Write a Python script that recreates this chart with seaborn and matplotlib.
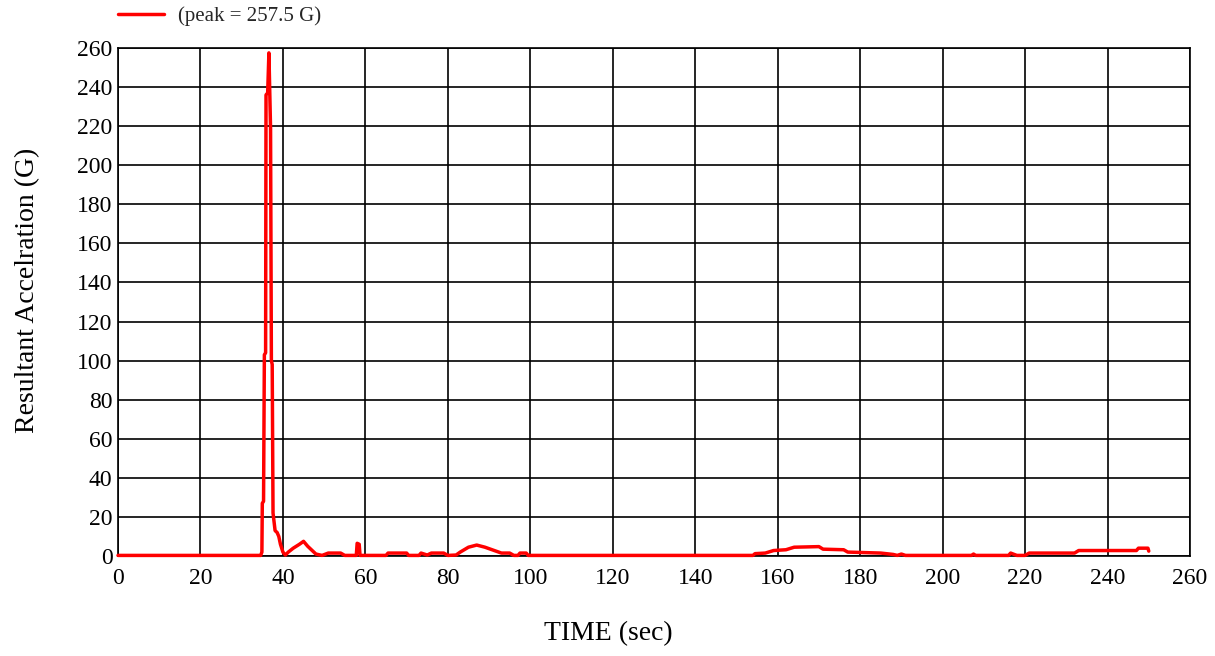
import matplotlib
matplotlib.use("Agg")
import matplotlib.pyplot as plt
import seaborn as sns
import pandas as pd

# Resultant acceleration record (time in seconds, acceleration in G)
time_sec = [
    0.0, 34.6, 34.9, 35.0, 35.3, 35.5, 35.8, 35.9, 36.3, 36.6,
    37.0, 37.2, 37.4, 37.6, 38.1, 38.6, 39.0, 39.4, 40.0, 40.6,
    41.3, 42.5, 44.0, 45.0, 46.0, 47.0, 48.0, 49.5, 51.0, 54.0,
    55.0, 57.8, 58.0, 58.5, 58.7, 65.0, 65.5, 70.0, 70.5, 73.0,
    73.5, 75.0, 76.0, 79.0, 80.0, 82.0, 83.0, 85.0, 87.0, 89.0,
    91.0, 93.0, 95.0, 96.0, 97.0, 97.5, 99.0, 99.5, 154.0, 154.5,
    157.0, 159.0, 162.0, 164.0, 170.0, 171.0, 176.0, 177.0, 185.0, 188.0,
    189.0, 190.0, 191.0, 207.0, 207.5, 208.0, 216.0, 216.5, 218.0, 220.0,
    221.0, 232.0, 233.0, 247.0, 247.5, 249.8, 250.0,
]
accel_g = [
    0.3, 0.3, 2.0, 27.0, 28.0, 103.0, 104.0, 236.0, 237.0, 257.5,
    219.0, 100.0, 98.0, 22.0, 13.0, 12.0, 10.0, 6.0, 2.0, 0.5,
    2.0, 4.0, 6.0, 7.5, 5.0, 3.0, 1.0, 0.3, 1.5, 1.5,
    0.3, 0.3, 6.5, 6.0, 0.3, 0.3, 1.5, 1.5, 0.3, 0.3,
    1.5, 0.5, 1.5, 1.5, 0.3, 0.5, 2.0, 4.5, 5.6, 4.5,
    3.0, 1.5, 1.5, 0.3, 0.3, 1.5, 1.5, 0.3, 0.3, 1.2,
    1.5, 2.8, 3.2, 4.5, 4.8, 3.5, 3.2, 2.0, 1.5, 0.8,
    0.3, 1.0, 0.3, 0.3, 1.0, 0.3, 0.3, 1.5, 0.3, 0.3,
    1.5, 1.5, 2.8, 2.8, 4.0, 4.0, 2.5,
]
tick_values = list(range(0, 261, 20))

df = pd.DataFrame({"time": time_sec, "accel": accel_g})
peak = max(accel_g)

sns.set_theme(style="white")
plt.rcParams["font.family"] = ["Liberation Serif", "DejaVu Serif"]

W, H = 1215, 656
fig = plt.figure(figsize=(W / 100, H / 100), dpi=100)
ax = fig.add_axes([118 / W, 1 - 556 / H, (1190 - 118) / W, (556 - 48) / H])

sns.lineplot(data=df, x="time", y="accel", ax=ax, color="#ff0000",
             linewidth=2.5, sort=False, estimator=None,
             label=f"(peak = {peak:.1f} G)", clip_on=False, zorder=5)

ax.set_xlim(0, 260)
ax.set_ylim(0, 260)
ax.set_xticks(tick_values)
ax.set_yticks(tick_values)
ax.grid(True, color="black", linewidth=1.2)
ax.set_axisbelow(True)
for s in ax.spines.values():
    s.set_color("black")
    s.set_linewidth(1.2)
ax.tick_params(axis="both", direction="in", length=5, width=1.2,
               colors="black", labelsize=17)
ax.tick_params(axis="x", pad=9)
ax.tick_params(axis="y", pad=4)

ax.set_xlabel("TIME (sec)", fontsize=20, color="black")
ax.xaxis.set_label_coords((608 - 118) / (1190 - 118), -(621 - 556) / (556 - 48))
ax.set_ylabel("Resultant Accelration (G)", fontsize=20, color="black")
ax.yaxis.set_label_coords(-(118 - 40) / (1190 - 118), (556 - 290) / (556 - 48))

ax.get_legend().remove()
handles, labels = ax.get_legend_handles_labels()
fig.legend(handles, labels, loc="center left",
           bbox_to_anchor=(118 / W, 1 - 16 / H), frameon=False,
           fontsize=15, handlelength=2.2, handletextpad=0.7,
           borderpad=0, borderaxespad=0)

fig.savefig("out.png", dpi=100)
